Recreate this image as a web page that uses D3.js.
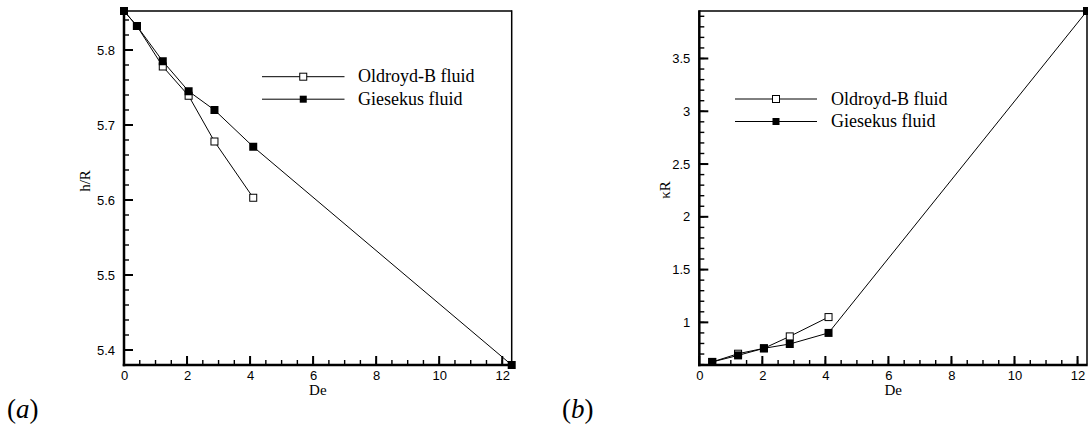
<!DOCTYPE html>
<html lang="en">
  <head>
    <meta charset="utf-8">
    <title>h/R and kR versus De</title>
    <style>
      body { margin: 0; background: #fff; color: #000; }
      .tick text { font-family: "Liberation Sans", Arial, sans-serif; font-size: 13px; fill: #000; }
      .axis-title { font-family: "Liberation Serif", "Times New Roman", serif; fill: #000; }
      .line { fill: none; stroke: #000; stroke-width: 1px; }
    </style>
  </head>
  <body>
    <svg id="wrapper" width="1088" height="427"></svg>

    <script src="https://cdnjs.cloudflare.com/ajax/libs/d3/7.8.5/d3.min.js"></script>
    <script>
    // panel (a): h/R against De
    const deOldA = [0, 0.41, 1.23, 2.05, 2.87, 4.1];
    const hOldA  = [5.852, 5.832, 5.778, 5.739, 5.678, 5.603];
    const deGieA = [0, 0.41, 1.23, 2.05, 2.87, 4.1, 12.3];
    const hGieA  = [5.852, 5.832, 5.785, 5.745, 5.72, 5.671, 5.38];

    // panel (b): kappa R against De
    const deOldB = [0.41, 1.23, 2.05, 2.87, 4.1];
    const kOldB  = [0.625, 0.703, 0.754, 0.867, 1.05];
    const deGieB = [0.41, 1.23, 2.05, 2.87, 4.1, 12.3];
    const kGieB  = [0.625, 0.687, 0.754, 0.795, 0.90, 3.95];

    const xTicks  = [0, 2, 4, 6, 8, 10, 12];
    const yTicksA = [5.4, 5.5, 5.6, 5.7, 5.8];
    const yTicksB = [1, 1.5, 2, 2.5, 3, 3.5];
    const legendNames = ['Oldroyd-B fluid', 'Giesekus fluid'];

    const svg = d3.select('#wrapper');

    function zip(xs, ys) {
      return xs.map(function(v, i) { return {x: v, y: ys[i]}; });
    }

    function minorRange(a, b, step) {
      let out = [];
      for (let v = a; v <= b + 1e-9; v += step) out.push(+v.toFixed(4));
      return out;
    }

    function drawPanel(cfg) {
      const x = d3.scaleLinear().domain(cfg.xDomain).range(cfg.xRange);
      const y = d3.scaleLinear().domain(cfg.yDomain).range(cfg.yRange);
      const x0 = cfg.xRange[0], y0 = cfg.yRange[0], x1 = cfg.xRange[1], y1 = cfg.yRange[1];

      // frame: thin top/right, thick left/bottom
      svg.append('rect').attr('x', x0).attr('y', y1 - 0.75).attr('width', x1 - x0).attr('height', 1.5).attr('fill', '#000');
      svg.append('rect').attr('x', x1 - 0.75).attr('y', y1 - 0.75).attr('width', 1.5).attr('height', y0 - y1).attr('fill', '#000');
      svg.append('rect').attr('x', x0 - 1.25).attr('y', y1 - 0.75).attr('width', 2.5).attr('height', y0 - y1 + 2).attr('fill', '#000');
      svg.append('rect').attr('x', x0 - 1.25).attr('y', y0 - 1.25).attr('width', x1 - x0 + 2).attr('height', 2.5).attr('fill', '#000');

      // inward ticks, minor and major
      const xt = minorRange(0.5, 12, 0.5).map(function(v) { return {v: v, len: 5, w: 1.4}; })
        .concat(xTicks.map(function(v) { return {v: v, len: 9, w: 2}; }));
      const yt = cfg.yMinor.map(function(v) { return {v: v, len: 5, w: 1.4}; })
        .concat(cfg.yTicks.map(function(v) { return {v: v, len: 9, w: 2}; }));
      svg.selectAll(null).data(xt).enter().append('rect')
        .attr('x', function(d) { return x(d.v) - d.w / 2; })
        .attr('y', function(d) { return y0 - d.len; })
        .attr('width', function(d) { return d.w; })
        .attr('height', function(d) { return d.len; })
        .attr('fill', '#000');
      svg.selectAll(null).data(yt).enter().append('rect')
        .attr('x', x0)
        .attr('y', function(d) { return y(d.v) - d.w / 2; })
        .attr('width', function(d) { return d.len; })
        .attr('height', function(d) { return d.w; })
        .attr('fill', '#000');

      // tick labels via d3 axes
      svg.append('g')
        .attr('transform', 'translate(0,' + y0 + ')')
        .call(d3.axisBottom(x).tickValues(xTicks).tickSize(0).tickPadding(6).tickFormat(d3.format('d')))
        .call(function(s) { s.select('.domain').remove(); s.selectAll('.tick line').remove(); });
      svg.append('g')
        .attr('transform', 'translate(' + x0 + ',0)')
        .call(d3.axisLeft(y).tickValues(cfg.yTicks).tickSize(0).tickPadding(9).tickFormat(d3.format('')))
        .call(function(s) { s.select('.domain').remove(); s.selectAll('.tick line').remove(); });

      // axis titles
      svg.append('text')
        .attr('class', 'axis-title')
        .attr('x', (x0 + x1) / 2)
        .attr('y', 395)
        .attr('text-anchor', 'middle')
        .attr('font-size', 15)
        .text('De');
      svg.append('text')
        .attr('class', 'axis-title')
        .attr('transform', 'translate(' + cfg.yTitleX + ',' + cfg.yTitleY + ') rotate(-90)')
        .attr('text-anchor', 'middle')
        .attr('font-size', 15)
        .text(cfg.yTitle);

      // data lines
      const line = d3.line().x(function(d) { return x(d.x); }).y(function(d) { return y(d.y); });
      const oldData = zip(cfg.oldX, cfg.oldY);
      const gieData = zip(cfg.gieX, cfg.gieY);
      svg.append('path').datum(oldData).attr('class', 'line').attr('d', line);
      svg.append('path').datum(gieData).attr('class', 'line').attr('d', line);

      // markers
      svg.selectAll(null).data(oldData).enter().append('rect')
        .attr('x', function(d) { return x(d.x) - 3.5; })
        .attr('y', function(d) { return y(d.y) - 3.5; })
        .attr('width', 7).attr('height', 7)
        .attr('fill', '#fff').attr('stroke', '#000').attr('stroke-width', 1);
      svg.selectAll(null).data(gieData).enter().append('rect')
        .attr('x', function(d) { return x(d.x) - 4; })
        .attr('y', function(d) { return y(d.y) - 4; })
        .attr('width', 8).attr('height', 8)
        .attr('fill', '#000');

      // legend
      legendNames.forEach(function(name, i) {
        const ly = cfg.legend.y + i * 22.5;
        const cx = (cfg.legend.x1 + cfg.legend.x2) / 2;
        svg.append('path')
          .attr('d', 'M' + cfg.legend.x1 + ',' + ly + 'H' + cfg.legend.x2)
          .attr('stroke', '#000').attr('stroke-width', 1);
        svg.append('rect').attr('x', cx - 3.5).attr('y', ly - 3.5).attr('width', 7).attr('height', 7)
          .attr('fill', i === 0 ? '#fff' : '#000').attr('stroke', '#000').attr('stroke-width', i === 0 ? 1 : 0);
        svg.append('text')
          .attr('class', 'axis-title')
          .attr('x', cfg.legend.tx).attr('y', ly + 5.5)
          .attr('font-size', 18)
          .text(name);
      });

      // panel label
      const pl = svg.append('text')
        .attr('class', 'axis-title')
        .attr('x', cfg.labelX).attr('y', 418)
        .attr('font-size', 27);
      pl.append('tspan').text('(');
      pl.append('tspan').attr('font-style', 'italic').text(cfg.label);
      pl.append('tspan').text(')');
    }

    drawPanel({
      xDomain: [0, 12.3], xRange: [124, 511.7],
      yDomain: [5.38, 5.852], yRange: [365, 11],
      yTicks: yTicksA, yMinor: minorRange(5.38, 5.84, 0.02),
      yTitle: 'h/R', yTitleX: 90, yTitleY: 181,
      oldX: deOldA, oldY: hOldA, gieX: deGieA, gieY: hGieA,
      legend: {x1: 262, x2: 344.5, y: 76.7, tx: 358},
      label: 'a', labelX: 7
    });

    drawPanel({
      xDomain: [0, 12.3], xRange: [699.3, 1087],
      yDomain: [0.596, 3.95], yRange: [365, 11],
      yTicks: yTicksB, yMinor: minorRange(0.6, 3.9, 0.1),
      yTitle: 'κR', yTitleX: 670, yTitleY: 190,
      oldX: deOldB, oldY: kOldB, gieX: deGieB, gieY: kGieB,
      legend: {x1: 735, x2: 817, y: 99, tx: 831},
      label: 'b', labelX: 562
    });
    </script>
  </body>
</html>
